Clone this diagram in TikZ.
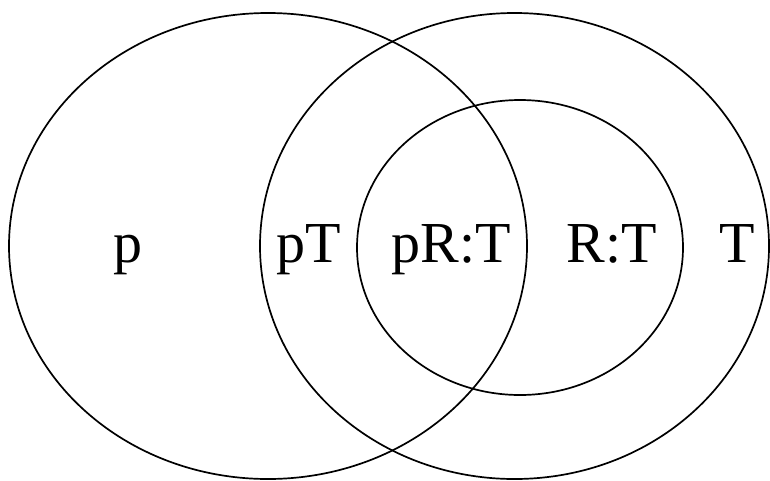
\documentclass[tikz,border=0pt]{standalone}
\usepackage{fontspec}
\setmainfont{Liberation Serif}
\usetikzlibrary{math}

\tikzset{
  rim/.style={line width=1.7pt},
  lab/.style={font=\fontsize{58}{60}\selectfont, anchor=base, inner sep=0pt}
}

\begin{document}
\begin{tikzpicture}[x=1pt,y=-1pt]
\tikzmath{
\cy=246;
\base=262;
}
\useasboundingbox (0,0) rectangle (770,480);

\coordinate (P) at (268,\cy);
\coordinate (T) at (514.5,\cy);
\coordinate (R) at (520,247.5);

\draw[rim] (P) ellipse (259 and 233);
\draw[rim] (T) ellipse (254.5 and 233);
\draw[rim] (R) ellipse (163 and 147.5);

\node[lab] (labp) at (128,\base) {p};
\node[lab] (labpT) at (309,\base) {pT};
\node[lab] (labpRT) at (451,\base) {pR:T};
\node[lab] (labRT) at (612,\base) {R:T};
\node[lab] (labT) at (737,\base) {T};

\end{tikzpicture}
\end{document}
